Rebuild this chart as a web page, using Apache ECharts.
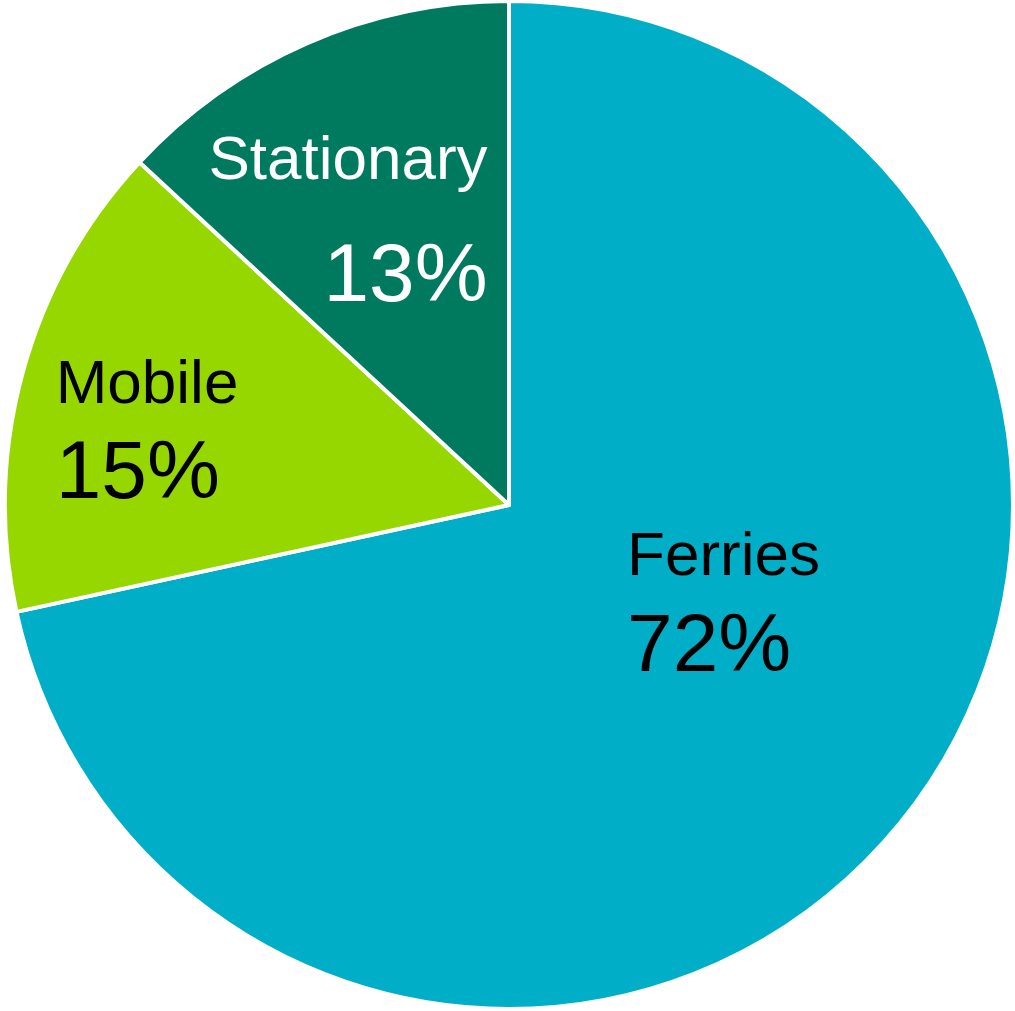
<!DOCTYPE html>
<html>
<head>
<meta charset="utf-8">
<script src="https://cdn.jsdelivr.net/npm/echarts@6/dist/echarts.min.js"></script>
<style>
html,body{margin:0;padding:0;background:#fff;}
#chart{width:1015px;height:1011px;}
</style>
</head>
<body>
<div id="chart"></div>
<script>
const categories = ['Ferries', 'Mobile', 'Stationary'];
const values = [71.6, 15.3, 13.1];

const colors = ['#00AEC7', '#97D700', '#007A5E'];
const textColors = ['#000000', '#000000', '#ffffff'];
const labelAlign = ['left', 'left', 'right'];
const labelOffsets = [[16, -62], [-116, -7], [-59, -51]];
const lineHeights = [90, 90, 116];

const chart = echarts.init(document.getElementById('chart'), null, {renderer: 'canvas'});
const data = categories.map((name, i) => ({
  name: name,
  value: values[i],
  itemStyle: {color: colors[i]},
  label: {
    align: labelAlign[i],
    offset: labelOffsets[i],
    rich: {
      n: {fontSize: 62, color: textColors[i], fontFamily: 'Liberation Sans, Arial, sans-serif', lineHeight: lineHeights[i], align: labelAlign[i]},
      p: {fontSize: 82, color: textColors[i], fontFamily: 'Liberation Sans, Arial, sans-serif', lineHeight: lineHeights[i], align: labelAlign[i]}
    }
  }
}));

chart.setOption({
  animation: false,
  series: [{
    type: 'pie',
    center: [509, 505],
    radius: 504,
    startAngle: 90,
    clockwise: true,
    avoidLabelOverlap: false,
    itemStyle: {borderColor: '#ffffff', borderWidth: 4},
    label: {
      show: true,
      position: 'inside',
      formatter: p => '{n|' + p.name + '}\n{p|' + Math.round(p.percent) + '%}'
    },
    labelLine: {show: false},
    emphasis: {disabled: true},
    data: data
  }]
});
</script>
</body>
</html>
